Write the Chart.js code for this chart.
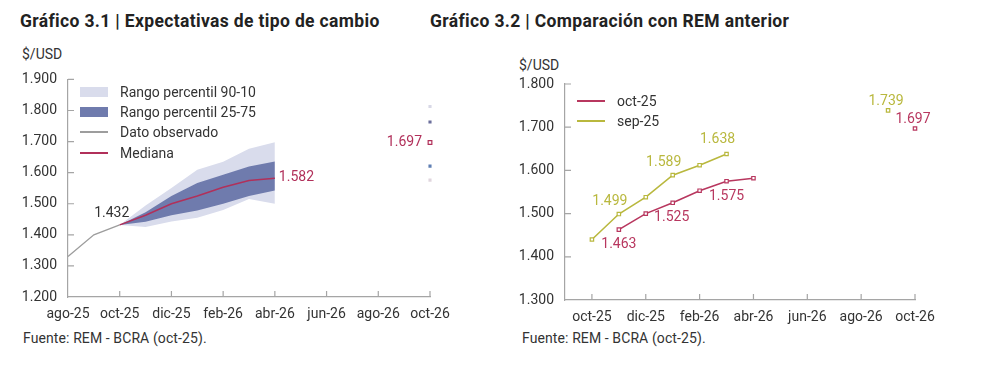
<!DOCTYPE html>
<html>
<head>
<meta charset="utf-8">
<script src="https://cdn.jsdelivr.net/npm/chart.js@4.4.1/dist/chart.umd.min.js"></script>
<style>
  body { margin: 0; background: #fff; font-family: Roboto, sans-serif; color: #333; }
  #page { position: relative; width: 986px; height: 385px; overflow: hidden; }
  .abs { position: absolute; white-space: nowrap; }
  .title { font-weight: bold; font-size: 17.5px; letter-spacing: 0.35px; color: #222; line-height: 20px; }
  .unit { font-size: 14px; line-height: 16px; }
  .src { font-size: 14px; letter-spacing: 0.1px; line-height: 16px; }
  .leg { font-size: 14px; line-height: 16px; }
  canvas { position: absolute; }
</style>
</head>
<body>
<div id="page">
  <div class="abs title" style="left:20px; top:11px;">Gráfico 3.1 | Expectativas de tipo de cambio</div>
  <div class="abs title" style="left:430px; top:11px;">Gráfico 3.2 | Comparación con REM anterior</div>
  <div class="abs unit" style="left:22px; top:46px;">$/USD</div>
  <div class="abs unit" style="left:519px; top:57px;">$/USD</div>

  <canvas id="expectations-chart" width="470" height="270" style="left:0; top:60px;"></canvas>
  <canvas id="comparison-chart" width="480" height="270" style="left:490px; top:60px;"></canvas>

  <div id="left-legend"></div>
  <div id="right-legend"></div>

  <div class="abs src" style="left:23px; top:330px;">Fuente: REM - BCRA (oct-25).</div>
  <div class="abs src" style="left:522px; top:330px;">Fuente: REM - BCRA (oct-25).</div>
</div>
<script>
// ---- data: Gráfico 3.1 ----
const leftMonths = ['ago-25', 'sep-25', 'oct-25', 'nov-25', 'dic-25', 'ene-26', 'feb-26', 'mar-26',
                    'abr-26', 'may-26', 'jun-26', 'jul-26', 'ago-26', 'sep-26', 'oct-26'];
const observed = [1330, 1400, 1432, null, null, null, null, null, null, null, null, null, null, null, null];
const median   = [null, null, 1432, 1463, 1500, 1525, 1553, 1575, 1582, null, null, null, null, null, null];
const p10      = [null, null, 1432, 1425, 1443, 1455, 1480, 1515, 1500, null, null, null, null, null, null];
const p25      = [null, null, 1432, 1442, 1463, 1478, 1500, 1525, 1543, null, null, null, null, null, null];
const p75      = [null, null, 1432, 1473, 1525, 1567, 1593, 1620, 1636, null, null, null, null, null, null];
const p90      = [null, null, 1432, 1494, 1551, 1609, 1635, 1677, 1698, null, null, null, null, null, null];
// oct-26 horizon: p90, p75, median, p25, p10
const horizonNames  = ['p90', 'p75', 'mediana', 'p25', 'p10'];
const horizonValues = [1813, 1763, 1697, 1621, 1576];

// ---- data: Gráfico 3.2 ----
const rightMonths = ['sep-25', 'oct-25', 'nov-25', 'dic-25', 'ene-26', 'feb-26', 'mar-26', 'abr-26',
                     'may-26', 'jun-26', 'jul-26', 'ago-26', 'sep-26', 'oct-26'];
const remOct25 = [null, null, 1463, 1500, 1525, 1553, 1575, 1582, null, null, null, null, null, 1697];
const remSep25 = [null, 1440, 1499, 1538, 1589, 1612, 1638, null, null, null, null, null, 1739, null];

const LIGHT_BAND = '#d9dcec';
const DARK_BAND = '#6f7bad';
const MEDIAN_RED = '#b1305a';
const OBS_GRAY = '#9d9d9d';
const OCT_RED = '#b8375f';
const SEP_OLIVE = '#b9b83e';
const AXIS = '#a5a5a5';
const horizonColors = ['#d8d8e6', '#6c6f9c', MEDIAN_RED, '#5f7fb3', '#e0d6de'];

Chart.defaults.font.family = 'Roboto, sans-serif';
Chart.defaults.font.size = 14;
Chart.defaults.color = '#333';

function fmt(v) {
    return (v / 1000).toFixed(3);
}

// value labels next to chosen points
const valueLabels = {
    id: 'valueLabels',
    afterDatasetsDraw(chart, args, opts) {
        const ctx = chart.ctx;
        for (const it of opts.items || []) {
            const el = chart.getDatasetMeta(it.ds).data[it.i];
            const v = chart.data.datasets[it.ds].data[it.i];
            if (!el || v == null) continue;
            ctx.save();
            ctx.font = '14px Roboto, sans-serif';
            ctx.fillStyle = it.color;
            ctx.textAlign = it.align || 'center';
            ctx.textBaseline = 'middle';
            ctx.fillText(fmt(v), el.x + it.dx, el.y + it.dy);
            ctx.restore();
        }
    }
};

// small tick marks pointing into the plot area
const innerTicks = {
    id: 'innerTicks',
    afterDraw(chart, args, opts) {
        const ctx = chart.ctx;
        const xs = chart.scales.x, ys = chart.scales.y;
        ctx.save();
        ctx.strokeStyle = AXIS;
        ctx.lineWidth = 1.2;
        ctx.beginPath();
        xs.ticks.forEach((t, i) => {
            if (!opts.showX(i)) return;
            const px = xs.getPixelForTick(i);
            ctx.moveTo(px, xs.top);
            ctx.lineTo(px, xs.top - 6);
        });
        ys.ticks.forEach((t, i) => {
            if (i === 0) return;
            const py = ys.getPixelForTick(i);
            ctx.moveTo(ys.right, py);
            ctx.lineTo(ys.right + 6, py);
        });
        ctx.stroke();
        ctx.restore();
    }
};

function baseScales(yMin, yMax, yWidth, xHeight, showLabel) {
    return {
        x: {
            grid: { display: false, drawTicks: false },
            border: { display: true, color: AXIS, width: 1.2 },
            ticks: {
                autoSkip: false, maxRotation: 0, padding: 9,
                callback: function (val, i) { return showLabel(i) ? this.getLabelForValue(val) : ''; }
            },
            afterFit: s => { s.height = xHeight; }
        },
        y: {
            min: yMin, max: yMax,
            grid: { display: false, drawTicks: false },
            border: { display: true, color: AXIS, width: 1.2 },
            ticks: { stepSize: 100, padding: 11, callback: v => fmt(v) },
            afterFit: s => { s.width = yWidth; }
        }
    };
}

// ---- Gráfico 3.1 ----
let leftDatasets = [
    { label: 'p10', data: p10, borderWidth: 0, pointRadius: 0, fill: false, order: 4 },
    { label: 'Rango percentil 90-10', data: p90, borderWidth: 0, pointRadius: 0, fill: '-1', backgroundColor: LIGHT_BAND, order: 4 },
    { label: 'p25', data: p25, borderWidth: 0, pointRadius: 0, fill: false, order: 3 },
    { label: 'Rango percentil 25-75', data: p75, borderWidth: 0, pointRadius: 0, fill: '-1', backgroundColor: DARK_BAND, order: 3 },
    { label: 'Dato observado', data: observed, borderColor: OBS_GRAY, borderWidth: 1.3, pointRadius: 0, fill: false, order: 1 },
    { label: 'Mediana', data: median, borderColor: MEDIAN_RED, borderWidth: 1.5, pointRadius: 0, fill: false, order: 0 }
];
horizonValues.forEach((v, k) => {
    let arr = leftMonths.map((m, i) => i === leftMonths.length - 1 ? v : null);
    let isMedian = horizonNames[k] === 'mediana';
    leftDatasets.push({
        label: 'oct-26 ' + horizonNames[k], data: arr, showLine: false, order: 0,
        pointStyle: 'rect', pointRadius: isMedian ? 2.6 : 2.2,
        pointBorderWidth: isMedian ? 1.2 : 0,
        pointBorderColor: horizonColors[k],
        pointBackgroundColor: isMedian ? '#fff' : horizonColors[k]
    });
});
const medianIdx = leftDatasets.findIndex(d => d.label === 'Mediana');
const horizonMedianIdx = leftDatasets.findIndex(d => d.label === 'oct-26 mediana');

new Chart(document.getElementById('expectations-chart'), {
    type: 'line',
    data: { labels: leftMonths, datasets: leftDatasets },
    options: {
        responsive: false, animation: false, devicePixelRatio: 1,
        layout: { padding: { top: 14, right: 40, left: 0, bottom: 0 } },
        plugins: {
            legend: { display: false }, tooltip: { enabled: false },
            valueLabels: {
                items: [
                    { ds: medianIdx, i: 2, dx: -8, dy: -11, color: '#333' },
                    { ds: medianIdx, i: 8, dx: 4, dy: -1, align: 'left', color: MEDIAN_RED },
                    { ds: horizonMedianIdx, i: 14, dx: -8, dy: 0, align: 'right', color: MEDIAN_RED }
                ]
            },
            innerTicks: { showX: i => i > 0 && i % 2 === 0 }
        },
        scales: baseScales(1200, 1900, 68, 33, i => i % 2 === 0)
    },
    plugins: [valueLabels, innerTicks]
});

// ---- Gráfico 3.2 ----
new Chart(document.getElementById('comparison-chart'), {
    type: 'line',
    data: {
        labels: rightMonths,
        datasets: [
            { label: 'oct-25', data: remOct25, borderColor: OCT_RED, borderWidth: 1.6, pointStyle: 'rect', pointRadius: 2.4,
              pointBorderWidth: 1.2, pointBackgroundColor: '#fff', pointBorderColor: OCT_RED, spanGaps: false },
            { label: 'sep-25', data: remSep25, borderColor: SEP_OLIVE, borderWidth: 1.6, pointStyle: 'rect', pointRadius: 2.4,
              pointBorderWidth: 1.2, pointBackgroundColor: '#fff', pointBorderColor: SEP_OLIVE, spanGaps: false }
        ]
    },
    options: {
        responsive: false, animation: false, devicePixelRatio: 1,
        layout: { padding: { top: 24, right: 55, left: 0, bottom: 0 } },
        plugins: {
            legend: { display: false }, tooltip: { enabled: false },
            valueLabels: {
                items: [
                    { ds: 1, i: 2, dx: -9, dy: -13, color: SEP_OLIVE },
                    { ds: 1, i: 4, dx: -9, dy: -13, color: SEP_OLIVE },
                    { ds: 1, i: 6, dx: -9, dy: -14, color: SEP_OLIVE },
                    { ds: 1, i: 12, dx: -2, dy: -9, color: SEP_OLIVE },
                    { ds: 0, i: 2, dx: 0, dy: 15, color: OCT_RED },
                    { ds: 0, i: 4, dx: -1, dy: 15, color: OCT_RED },
                    { ds: 0, i: 6, dx: 0, dy: 15, color: OCT_RED },
                    { ds: 0, i: 13, dx: -2, dy: -9, color: OCT_RED }
                ]
            },
            innerTicks: { showX: i => i % 2 === 1 }
        },
        scales: baseScales(1300, 1800, 75, 30, i => i % 2 === 1)
    },
    plugins: [valueLabels, innerTicks]
});

// ---- legends ----
function legendRow(host, x, y, kind, color, text) {
    let sw = document.createElement('div');
    sw.className = 'abs';
    if (kind === 'box') {
        sw.style.cssText = `left:${x}px; top:${y - 5}px; width:28px; height:10px; background:${color};`;
    } else {
        sw.style.cssText = `left:${x}px; top:${y - 1}px; width:28px; height:1.5px; background:${color};`;
    }
    host.appendChild(sw);
    let tx = document.createElement('div');
    tx.className = 'abs leg';
    tx.style.cssText = `left:${x + 40}px; top:${y - 8}px;`;
    tx.textContent = text;
    host.appendChild(tx);
}
let leftLegend = document.getElementById('left-legend');
legendRow(leftLegend, 80, 92, 'box', LIGHT_BAND, 'Rango percentil 90-10');
legendRow(leftLegend, 80, 112, 'box', DARK_BAND, 'Rango percentil 25-75');
legendRow(leftLegend, 80, 132, 'line', OBS_GRAY, 'Dato observado');
legendRow(leftLegend, 80, 153, 'line', MEDIAN_RED, 'Mediana');
let rightLegend = document.getElementById('right-legend');
legendRow(rightLegend, 577, 101, 'line', OCT_RED, 'oct-25');
legendRow(rightLegend, 577, 121, 'line', SEP_OLIVE, 'sep-25');
</script>
</body>
</html>
